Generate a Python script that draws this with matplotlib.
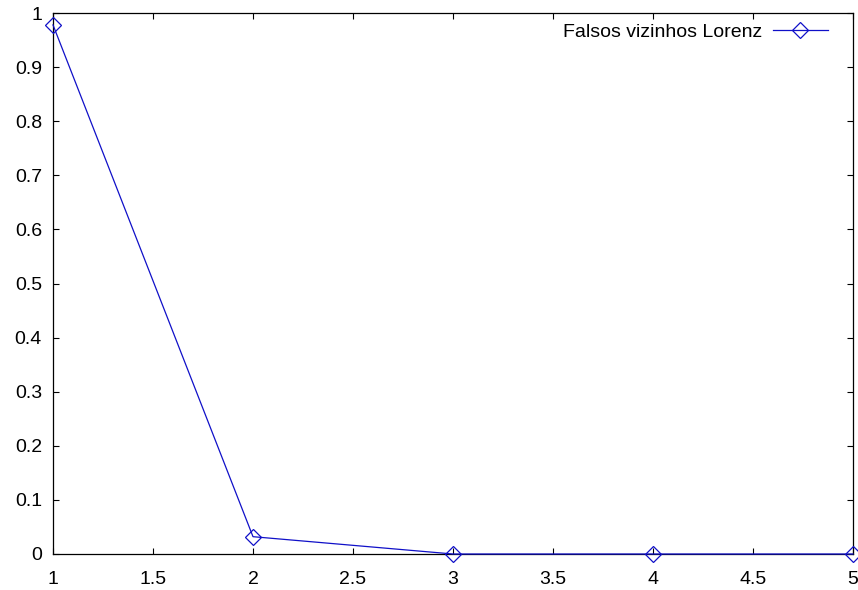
import numpy as np
import matplotlib.pyplot as plt

plt.rcParams['font.family'] = ['Liberation Sans', 'DejaVu Sans']

# dimensao de imersao vs fracao de falsos vizinhos
dim = [1, 2, 3, 4, 5]
fnn = [0.978, 0.032, 0.0, 0.0, 0.0]

fig = plt.figure(figsize=(8.58, 5.90), dpi=100)
ax = fig.add_axes([53/858, 36/590, 800/858, 541/590])

ax.plot(dim, fnn, color='#1010c8', lw=0.9, marker='D', ms=7.8,
        mfc='none', mec='#1010c8', mew=0.9, label='Falsos vizinhos Lorenz',
        clip_on=False, zorder=3)

ax.set_xlim(1, 5)
ax.set_ylim(0, 1)
ax.set_xticks(np.arange(1, 5.01, 0.5))
ax.set_xticklabels(['1', '1.5', '2', '2.5', '3', '3.5', '4', '4.5', '5'])
ax.set_yticks(np.arange(0, 1.01, 0.1))
ax.set_yticklabels(['0', '0.1', '0.2', '0.3', '0.4', '0.5', '0.6', '0.7', '0.8', '0.9', '1'])
ax.tick_params(direction='in', length=4.0, width=0.8, labelsize=14,
               top=True, right=True)
ax.tick_params(axis='y', pad=8)
ax.tick_params(axis='x', pad=12)
for s in ax.spines.values():
    s.set_linewidth(0.9)

ax.legend(loc='center right', bbox_to_anchor=(0.969, 0.965), frameon=False,
          markerfirst=False, fontsize=14, handlelength=2.85, handletextpad=0.55,
          borderpad=0, borderaxespad=0)

fig.savefig('out.png', dpi=100)
